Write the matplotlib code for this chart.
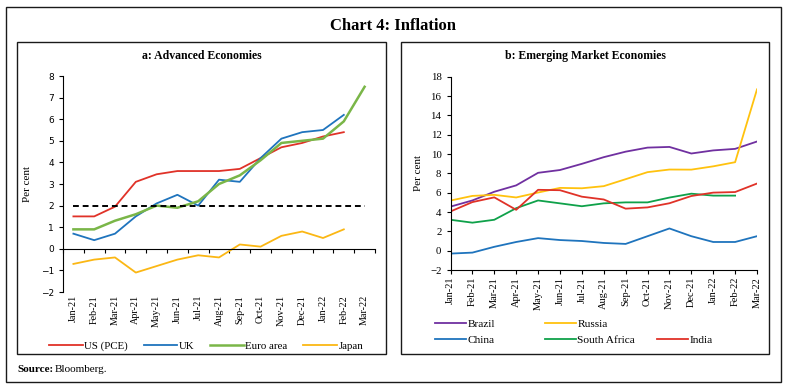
import matplotlib
matplotlib.use("Agg")
import matplotlib.pyplot as plt
from matplotlib.patches import Rectangle
from matplotlib.lines import Line2D
import numpy as np

months = ["Jan-21", "Feb-21", "Mar-21", "Apr-21", "May-21", "Jun-21", "Jul-21", "Aug-21",
          "Sep-21", "Oct-21", "Nov-21", "Dec-21", "Jan-22", "Feb-22", "Mar-22"]

# Panel a: Advanced Economies
us_pce = [1.5, 1.5, 1.95, 3.1, 3.45, 3.6, 3.6, 3.6, 3.7, 4.2, 4.7, 4.9, 5.2, 5.4]
uk = [0.7, 0.4, 0.7, 1.5, 2.1, 2.5, 2.0, 3.2, 3.1, 4.2, 5.1, 5.4, 5.5, 6.2]
euro = [0.9, 0.9, 1.3, 1.6, 2.0, 1.9, 2.2, 3.0, 3.4, 4.1, 4.9, 5.0, 5.1, 5.9, 7.5]
japan = [-0.7, -0.5, -0.4, -1.1, -0.8, -0.5, -0.3, -0.4, 0.2, 0.1, 0.6, 0.8, 0.5, 0.9]
target = [2.0] * 15

# Panel b: Emerging Market Economies
brazil = [4.56, 5.2, 6.1, 6.76, 8.06, 8.35, 8.99, 9.68, 10.25, 10.67, 10.74, 10.06, 10.38, 10.54, 11.3]
russia = [5.19, 5.67, 5.78, 5.51, 6.02, 6.5, 6.46, 6.68, 7.4, 8.13, 8.4, 8.39, 8.73, 9.16, 16.7]
china = [-0.3, -0.2, 0.4, 0.9, 1.3, 1.1, 1.0, 0.8, 0.7, 1.5, 2.3, 1.5, 0.9, 0.9, 1.5]
south_africa = [3.2, 2.9, 3.2, 4.4, 5.2, 4.9, 4.6, 4.9, 5.0, 5.0, 5.5, 5.9, 5.7, 5.7]
india = [4.06, 5.03, 5.52, 4.23, 6.3, 6.26, 5.59, 5.3, 4.35, 4.48, 4.91, 5.66, 6.01, 6.07, 6.95]

SERIF = "Liberation Serif"
SANS = "DejaVu Sans"

fig = plt.figure(figsize=(7.87, 3.88), dpi=100)

def box(l, b, w, h):
    fig.patches.append(Rectangle((l, b), w, h, transform=fig.transFigure,
                                 fill=False, edgecolor="#1a1a1a", linewidth=1.0))

box(6/787, 6/388, 775/787, 375/388)
box(17/787, 34/388, 369/787, 312/388)
box(401/787, 34/388, 368/787, 312/388)

fig.text(0.5, 1 - 26/388, "Chart 4: Inflation", ha="center", va="center",
         family=SERIF, fontsize=12, weight="bold")
fig.text(201.5/787, 1 - 56/388, "a: Advanced Economies", ha="center", va="center",
         family=SERIF, fontsize=8.5, weight="bold")
fig.text(585/787, 1 - 56/388, "b: Emerging Market Economies", ha="center", va="center",
         family=SERIF, fontsize=8.5, weight="bold")
fig.text(17/787, 1 - 369/388, "Source:", ha="left", va="center",
         family=SERIF, fontsize=8, weight="bold")
fig.text(55/787, 1 - 369/388, "Bloomberg.", ha="left", va="center",
         family=SERIF, fontsize=8)

# ---------- Panel a ----------
axa = fig.add_axes([63/787, 1 - 292/388, 312/787, 216/388])
x15 = np.arange(15)
axa.plot(x15[:14], us_pce, color="#e03228", lw=1.3, label="US (PCE)")
axa.plot(x15[:14], uk, color="#1f74bd", lw=1.3, label="UK")
axa.plot(x15, euro, color="#7ab648", lw=1.8, label="Euro area")
axa.plot(x15[:14], japan, color="#fbb714", lw=1.3, label="Japan")
axa.plot(x15, target, color="black", lw=1.4, ls=(0, (3, 2)))
axa.set_xlim(-0.5, 14.5)
axa.set_ylim(-2, 8)
axa.set_yticks(range(-2, 9))
axa.spines["top"].set_visible(False)
axa.spines["right"].set_visible(False)
axa.spines["bottom"].set_position(("data", 0))
axa.set_xticks(np.arange(-0.5, 15, 1))
axa.set_xticklabels([])
axa.tick_params(axis="x", length=3, width=0.8, direction="out")
axa.tick_params(axis="y", length=3, width=0.8, labelsize=6.5)
for t in axa.get_yticklabels():
    t.set_family(SANS)
axa.set_ylabel("Per cent", family=SERIF, fontsize=8, labelpad=6)
seca = axa.secondary_xaxis("bottom")
seca.set_xticks(x15)
seca.set_xticklabels(months, rotation=90, family=SERIF, fontsize=7.3)
seca.tick_params(length=0, pad=2)
seca.spines["bottom"].set_visible(False)
axa.legend(loc="upper left", bbox_to_anchor=(-14/312, -0.227), ncol=4, frameon=False,
           prop={"family": SERIF, "size": 7.8}, handlelength=3.1, handletextpad=0.15,
           columnspacing=1.45, borderaxespad=0, borderpad=0)

# ---------- Panel b ----------
axb = fig.add_axes([450.5/787, 1 - 270/388, 306.5/787, 193.2/388])
lb = axb.plot(x15, brazil, color="#7030a0", lw=1.3, label="Brazil")[0]
lr = axb.plot(x15, russia, color="#ffc20e", lw=1.3, label="Russia")[0]
lc = axb.plot(x15, china, color="#1f74bd", lw=1.3, label="China")[0]
ls = axb.plot(x15[:14], south_africa, color="#0fa14a", lw=1.3, label="South Africa")[0]
li = axb.plot(x15, india, color="#e03228", lw=1.3, label="India")[0]
axb.set_xlim(0, 14)
axb.set_ylim(-2, 18)
axb.set_yticks(range(-2, 19, 2))
axb.spines["top"].set_visible(False)
axb.spines["right"].set_visible(False)
axb.set_xticks(x15)
axb.set_xticklabels(months, rotation=90, family=SERIF, fontsize=7.5)
axb.tick_params(axis="x", length=3, width=0.8, pad=2)
axb.tick_params(axis="y", length=3, width=0.8, labelsize=7.8)
for t in axb.get_yticklabels():
    t.set_family(SERIF)
axb.set_ylabel("Per cent", family=SERIF, fontsize=8, labelpad=5)

legkw = dict(loc="upper left", frameon=False, prop={"family": SERIF, "size": 8.2},
             handlelength=2.7, handletextpad=0.15, labelspacing=0.55,
             borderaxespad=0, borderpad=0)
W = 306.5
yb = -0.255
l1 = axb.legend([lb, lc], ["Brazil", "China"], bbox_to_anchor=((435 - 450.5)/W, yb), **legkw)
axb.add_artist(l1)
l2 = axb.legend([lr, ls], ["Russia", "South Africa"], bbox_to_anchor=((545 - 450.5)/W, yb), **legkw)
axb.add_artist(l2)
blank = Line2D([], [], color="none")
l3 = axb.legend([blank, li], ["", "India"], bbox_to_anchor=((657 - 450.5)/W, yb), **legkw)

fig.savefig("out.png", dpi=100)
